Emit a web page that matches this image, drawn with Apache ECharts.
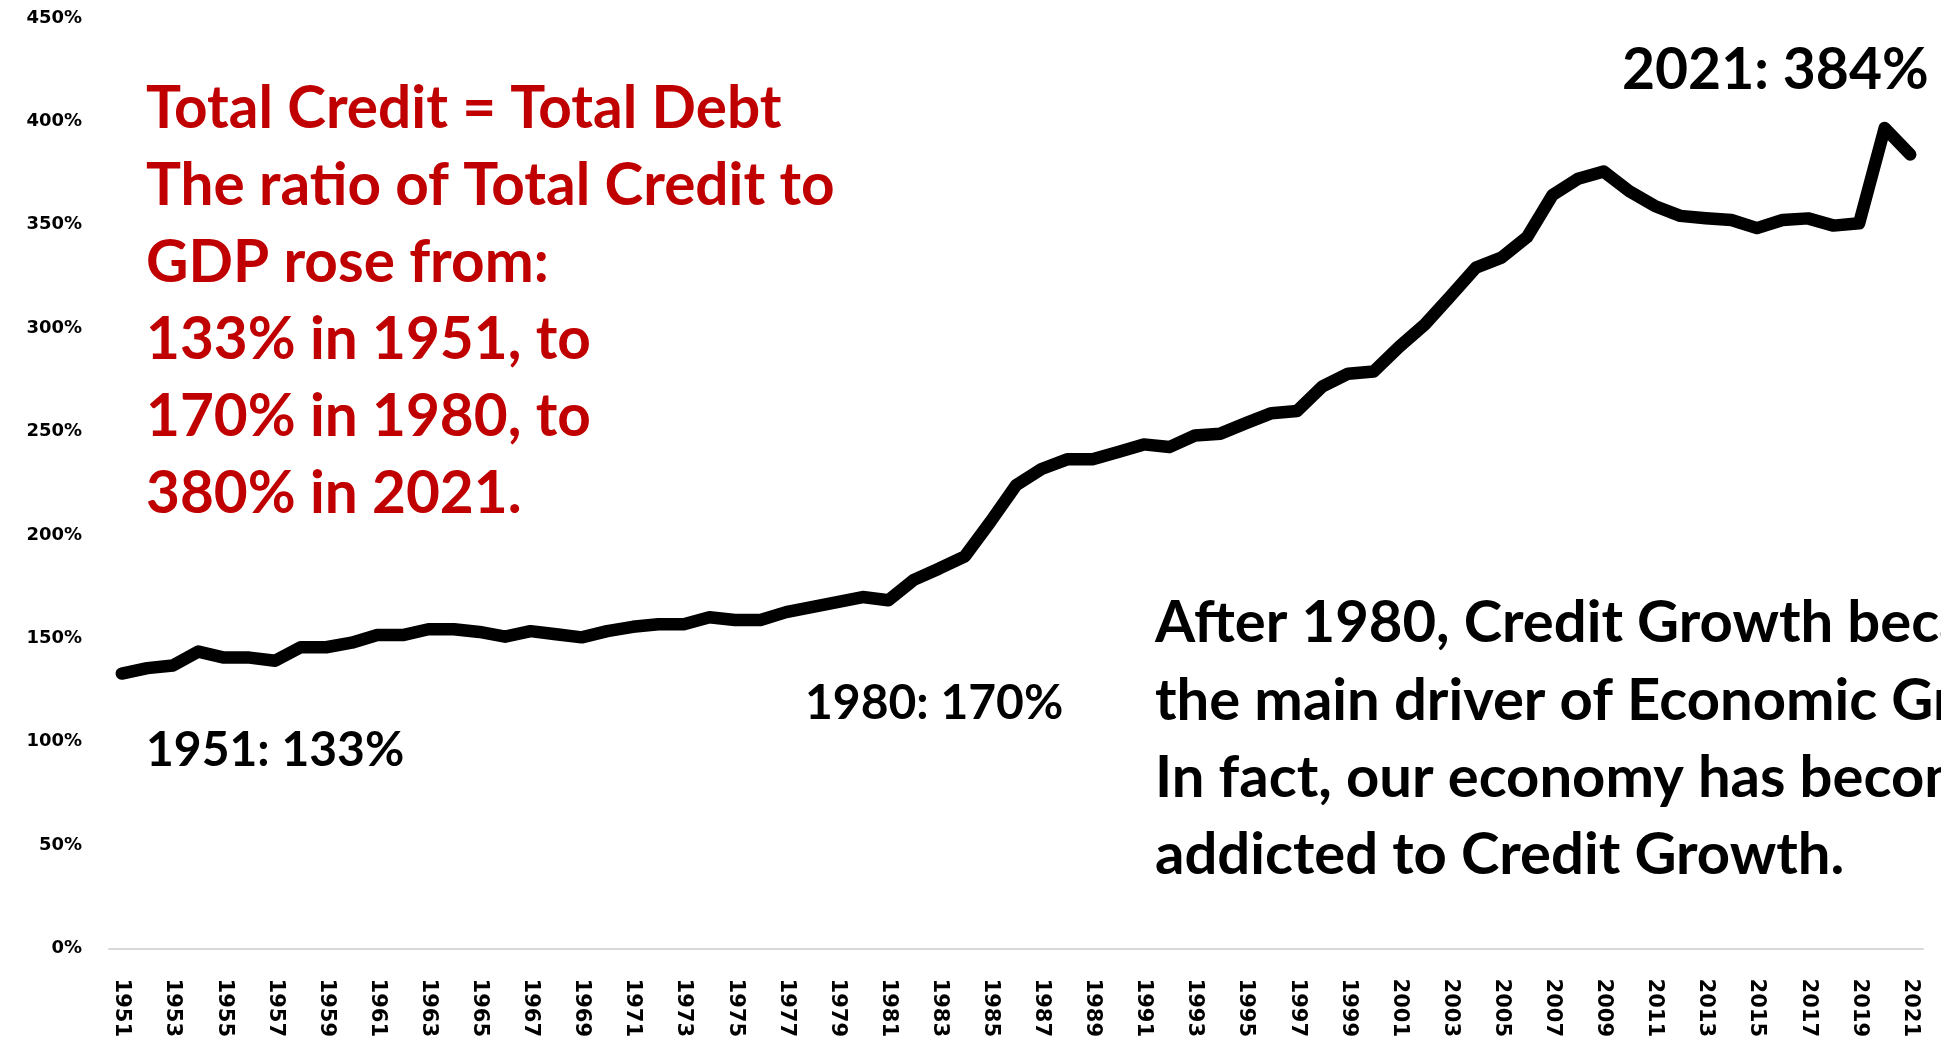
<!DOCTYPE html>
<html>
<head>
<meta charset="utf-8">
<title>Total Credit to GDP</title>
<script src="https://cdn.jsdelivr.net/npm/echarts@6/dist/echarts.min.js"></script>
<style>
  html, body { margin: 0; padding: 0; background: #ffffff; }
  #chart { width: 1941px; height: 1040px; }
</style>
</head>
<body>
<div id="chart"></div>
<script>
// Years on the category axis
const years = [
  '1951','1952','1953','1954','1955','1956','1957','1958','1959','1960',
  '1961','1962','1963','1964','1965','1966','1967','1968','1969','1970',
  '1971','1972','1973','1974','1975','1976','1977','1978','1979','1980',
  '1981','1982','1983','1984','1985','1986','1987','1988','1989','1990',
  '1991','1992','1993','1994','1995','1996','1997','1998','1999','2000',
  '2001','2002','2003','2004','2005','2006','2007','2008','2009','2010',
  '2011','2012','2013','2014','2015','2016','2017','2018','2019','2020',
  '2021'
];

// Total credit as a percent of GDP, one value per year
const creditToGdp = [
  133, 135.6, 136.9, 143.6, 140.7, 140.7, 139.2, 145.7, 145.7, 147.9,
  151.6, 151.6, 154.4, 154.4, 153.1, 150.8, 153.5, 152.0, 150.5, 153.5,
  155.6, 156.8, 156.8, 160.2, 158.9, 158.9, 162.7, 165.1, 167.5, 170,
  168.4, 178.3, 183.8, 189.7, 206.4, 224.0, 231.9, 236.6, 236.6, 240.1,
  243.8, 242.5, 248.1, 249.0, 254.1, 258.9, 260.0, 271.9, 278.0, 279.1,
  291.0, 301.8, 315.4, 329.3, 334.1, 344.0, 364.4, 372.3, 375.8, 366.3,
  359.1, 354.3, 353.2, 352.3, 348.4, 352.3, 353.1, 349.6, 350.7, 396.8,
  384
];

// Value axis range
const yMin = 0;
const yMax = 450;
const yStep = 50;

// Annotation texts
const summaryLines = [
  'Total Credit = Total Debt',
  'The ratio of Total Credit to',
  'GDP rose from:',
  '133% in 1951, to',
  '170% in 1980, to',
  '380% in 2021.'
];
const commentLines = [
  'After 1980, Credit Growth became',
  'the main driver of Economic Growth.',
  'In fact, our economy has become',
  'addicted to Credit Growth.'
];
const callouts = [
  { year: '1951', text: '1951: 133%' },
  { year: '1980', text: '1980: 170%' },
  { year: '2021', text: '2021: 384%' }
];

function calloutText(year) {
  const c = callouts.find(function (d) { return d.year === year; });
  return c ? c.text : '';
}

const chart = echarts.init(document.getElementById('chart'), null, { renderer: 'canvas' });

const annotationFont = 'Lato, "Open Sans", "Liberation Sans", sans-serif';

chart.setOption({
  backgroundColor: '#ffffff',
  animation: false,
  grid: { left: 109, right: 18, top: 18, bottom: 79, containLabel: false },
  xAxis: {
    type: 'category',
    data: years,
    boundaryGap: true,
    axisLine: { show: true, lineStyle: { color: '#d9d9d9', width: 2 } },
    axisTick: { show: false },
    axisLabel: {
      interval: 1,
      rotate: -90,
      margin: 30,
      color: '#000000',
      fontFamily: '"DejaVu Sans", sans-serif',
      fontWeight: 'bold',
      fontSize: 21
    },
    splitLine: { show: false }
  },
  yAxis: {
    type: 'value',
    min: yMin,
    max: yMax,
    interval: yStep,
    axisLine: { show: false },
    axisTick: { show: false },
    splitLine: { show: false },
    axisLabel: {
      formatter: '{value}%',
      margin: 27,
      color: '#000000',
      fontFamily: '"DejaVu Sans", sans-serif',
      fontWeight: 'bold',
      fontSize: 18
    }
  },
  series: [{
    type: 'line',
    data: creditToGdp,
    symbol: 'none',
    smooth: false,
    lineStyle: { color: '#000000', width: 12.5, cap: 'round', join: 'round' },
    z: 3
  }],
  graphic: [
    {
      type: 'text',
      left: 146,
      top: 71,
      style: {
        text: summaryLines.join('\n'),
        fill: '#c00000',
        font: 'bold 58.5px ' + annotationFont,
        lineHeight: 77
      }
    },
    {
      type: 'text',
      left: 1155,
      top: 585,
      style: {
        text: commentLines.join('\n'),
        fill: '#000000',
        font: 'bold 58px ' + annotationFont,
        lineHeight: 77.3
      }
    },
    {
      type: 'text',
      left: 146,
      top: 727,
      style: { text: calloutText('1951'), fill: '#000000', font: 'bold 48px ' + annotationFont }
    },
    {
      type: 'text',
      left: 805,
      top: 680,
      style: { text: calloutText('1980'), fill: '#000000', font: 'bold 48px ' + annotationFont }
    },
    {
      type: 'text',
      left: 1622,
      top: 42,
      style: { text: calloutText('2021'), fill: '#000000', font: 'bold 57px ' + annotationFont }
    }
  ]
});
</script>
</body>
</html>
